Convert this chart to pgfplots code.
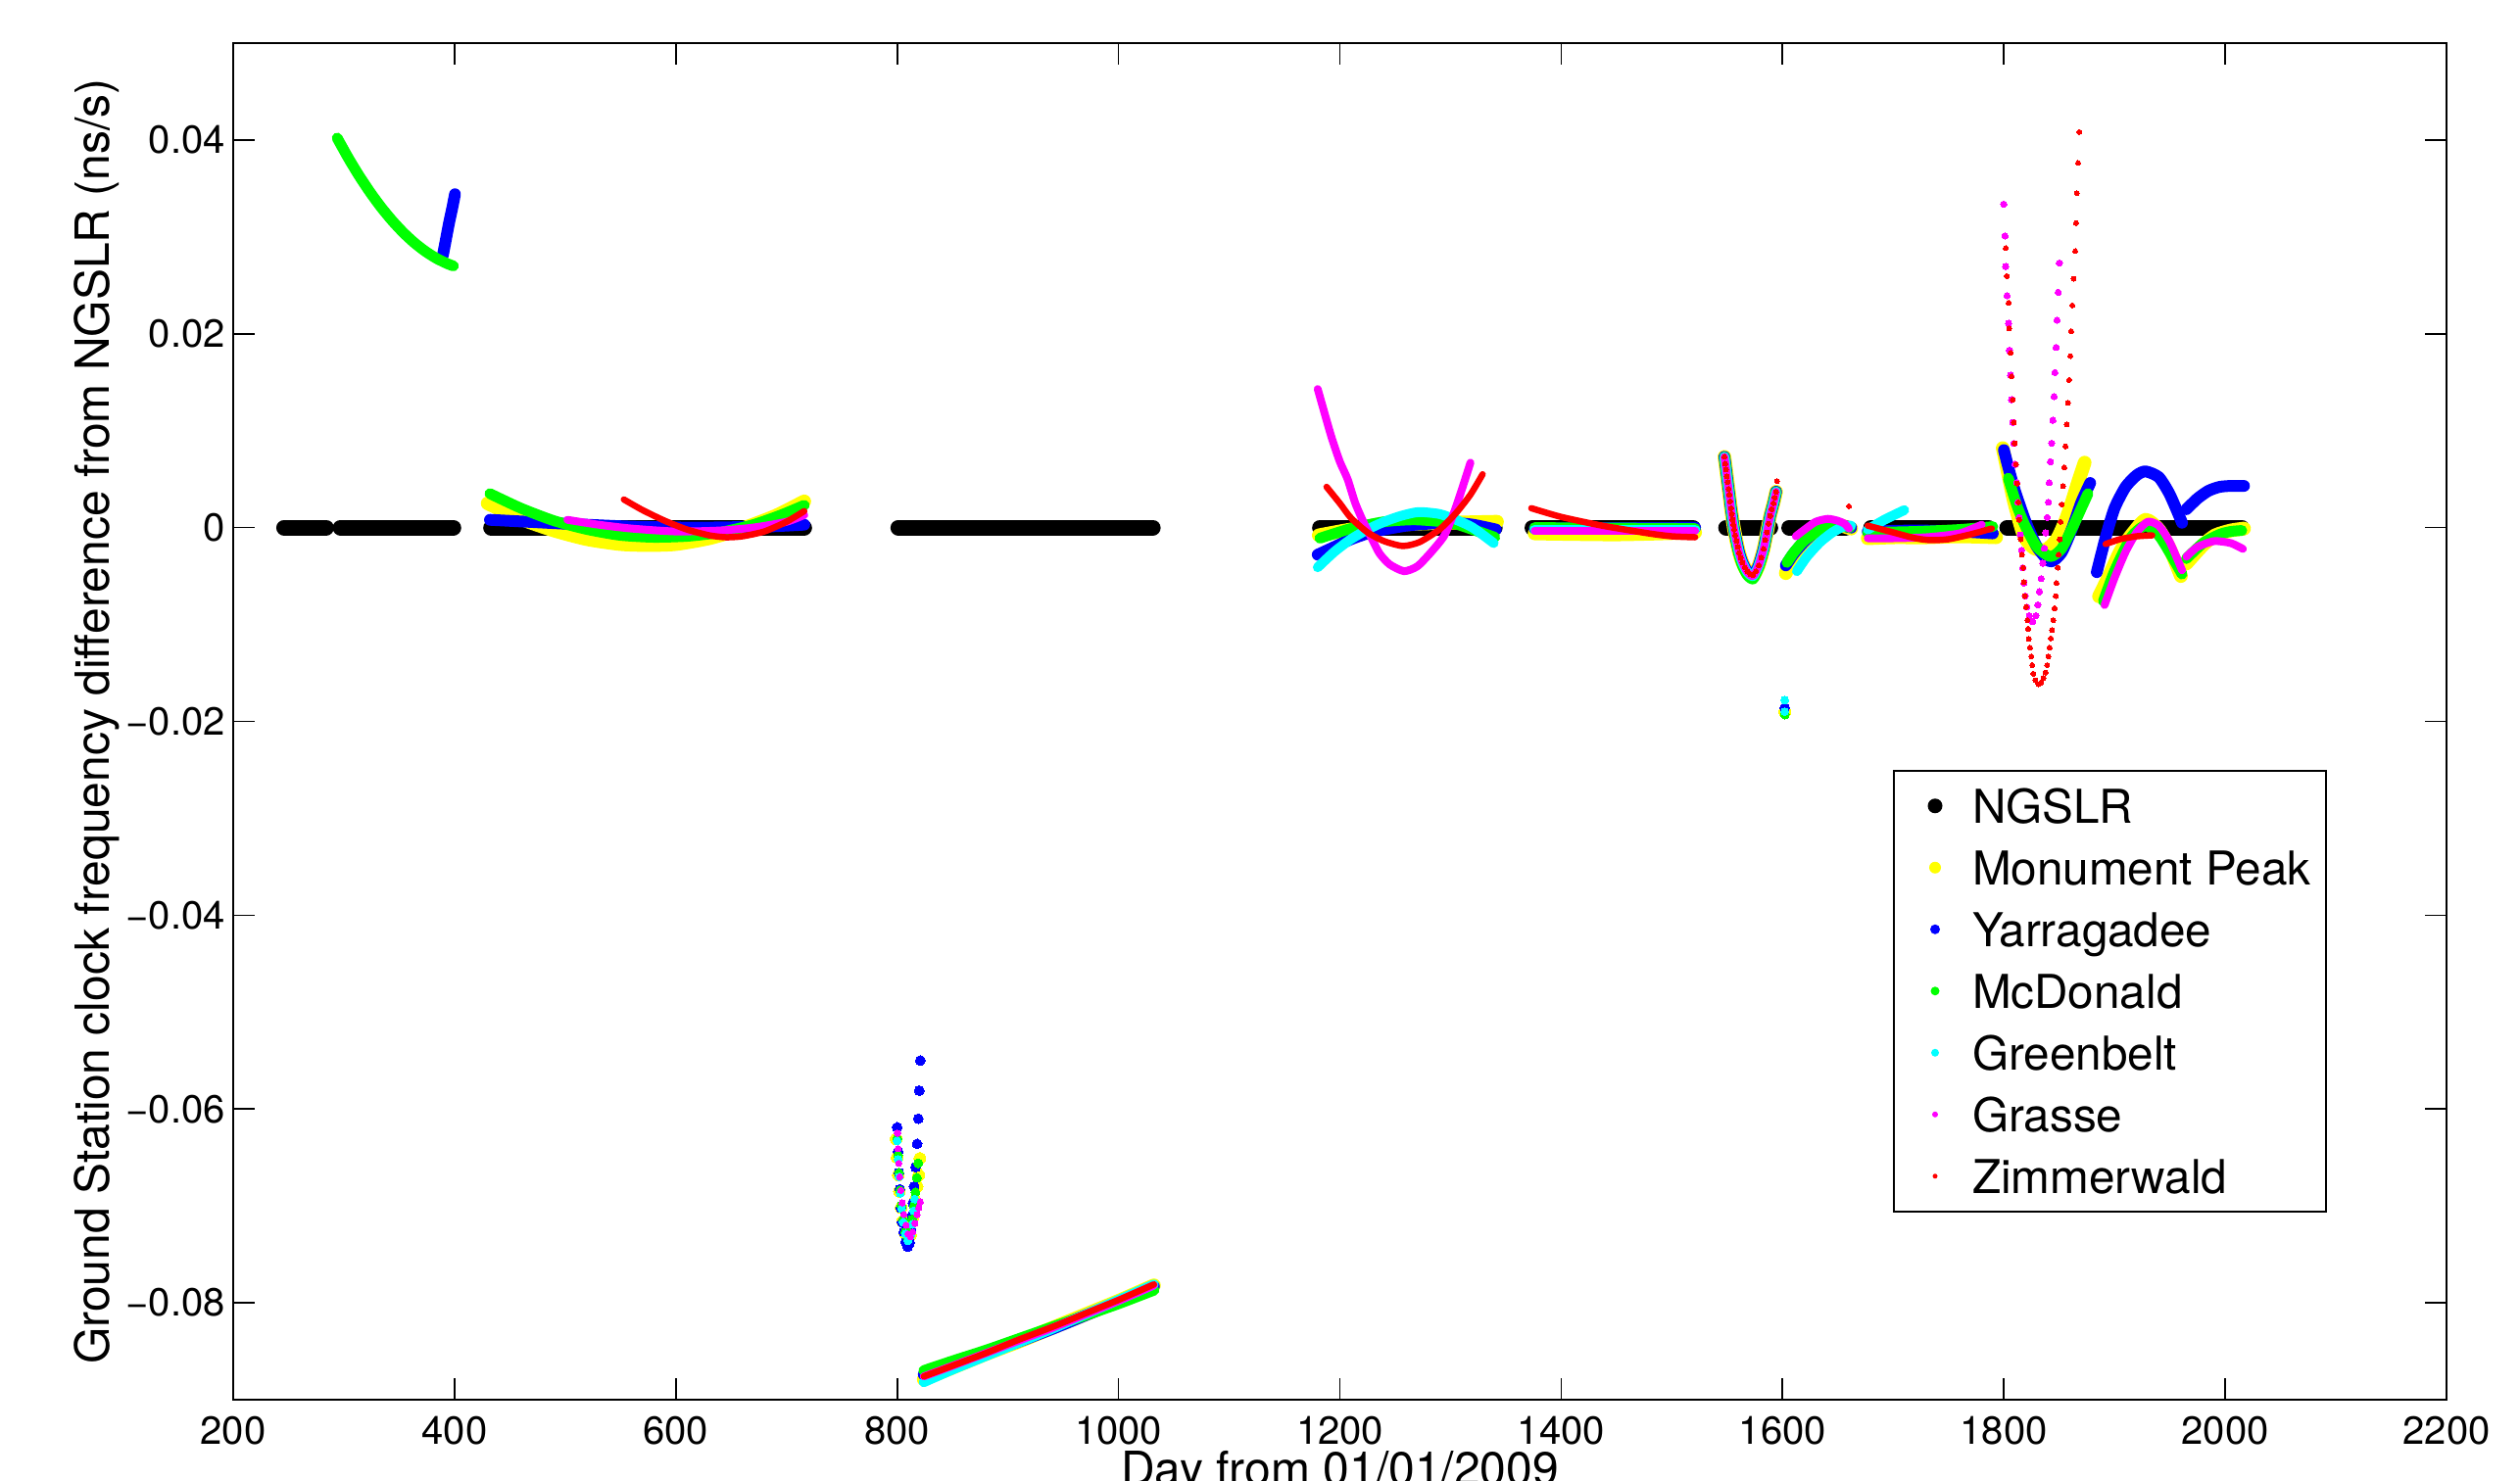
\documentclass[border=0pt]{standalone}
\usepackage{pgfplots}
\pgfplotsset{compat=1.18}
\usepackage{fontspec}
\setmainfont{TeX Gyre Heros}
\definecolor{cY}{rgb}{1,1,0}
\definecolor{cB}{rgb}{0,0,1}
\definecolor{cG}{rgb}{0,1,0}
\definecolor{cC}{rgb}{0,1,1}
\definecolor{cM}{rgb}{1,0,1}
\definecolor{cR}{rgb}{1,0,0}
\pgfplotsset{
  ln/.style={no markers, smooth, tension=0.4, line cap=round, line join=round, forget plot},
  NG/.style={ln, draw=black, line width=4.8pt},
  MP/.style={ln, draw=cY, line width=4.2pt},
  YA/.style={ln, draw=cB, line width=3.6pt},
  MD/.style={ln, draw=cG, line width=3.3pt},
  GB/.style={ln, draw=cC, line width=3.0pt},
  GR/.style={ln, draw=cM, line width=2.4pt},
  ZI/.style={ln, draw=cR, line width=1.95pt},
  dots/.style={only marks, mark=*, forget plot},
  MPd/.style={dots, color=cY, mark size=1.8pt, mark options={line width=0pt}},
  YAd/.style={dots, color=cB, mark size=1.5pt, mark options={line width=0pt}},
  MDd/.style={dots, color=cG, mark size=1.35pt, mark options={line width=0pt}},
  GBd/.style={dots, color=cC, mark size=1.2pt, mark options={line width=0pt}},
  GRd/.style={dots, color=cM, mark size=0.95pt, mark options={line width=0pt}},
  ZId/.style={dots, color=cR, mark size=0.75pt, mark options={line width=0pt}},
  leg/.style 2 args={forget plot=false, legend image code/.code={\path[draw=none, fill=none] (0pt,-1pt) rectangle (16pt,1pt); \path[draw=none, fill=#1] (8pt,0pt) circle[radius=#2];}},
}
\begin{document}
\begin{tikzpicture}
\begin{axis}[
  scale only axis, width=677.7pt, height=415.5pt,
  xmin=200, xmax=2200, ymin=-0.09, ymax=0.05,
  xtick={200,400,600,800,1000,1200,1400,1600,1800,2000,2200},
  xticklabels={200,400,600,800,1000,1200,1400,1600,1800,2000,2200},
  ytick={-0.08,-0.06,-0.04,-0.02,0,0.02,0.04},
  yticklabels={−0.08,−0.06,−0.04,−0.02,0,0.02,0.04},
  scaled y ticks=false, scaled x ticks=false,
  tick align=inside, major tick length=6.6pt,
  every tick/.style={black, line width=0.5pt},
  axis line style={line width=0.6pt},
  tick label style={font=\fontsize{12}{14}\selectfont},
  xticklabel style={anchor=north, inner sep=0pt, yshift=-4.8pt},
  yticklabel style={anchor=east, inner sep=0pt, xshift=-2.3pt},
  xlabel={Day from 01/01/2009},
  ylabel={Ground Station clock frequency difference from NGSLR (ns/s)},
  label style={font=\fontsize{14.4}{17}\selectfont},
  xlabel style={at={(axis description cs:0.5,-0.0376)}, anchor=north, inner sep=0pt},
  ylabel style={at={(axis description cs:-0.0558,0.5)}, anchor=base, inner sep=0pt, rotate=0},
  legend cell align=left,
  legend style={at={(0.7499,0.4643)}, anchor=north west, draw=black, line width=0.6pt,
    inner xsep=4.6pt, inner ysep=3pt, row sep=3.4pt, column sep=3.4pt,
    font=\fontsize{14.3}{16}\selectfont,
    nodes={inner sep=0pt, text height=13pt, text depth=2.5pt}},
]
\coordinate (SW) at (rel axis cs:0,0);
\coordinate (NE) at (rel axis cs:1,1);
% ---------------- NGSLR
\addplot[NG, leg={black}{2.25pt}] coordinates {(246,0) (284,0)};
\addlegendentry{NGSLR}
\addplot[NG] coordinates {(297,0) (399,0)};
\addplot[NG] coordinates {(433,0) (716,0)};
\addplot[NG] coordinates {(801,0) (1031,0)};
\addplot[NG] coordinates {(1182,0) (1340,0)};
\addplot[NG] coordinates {(1374,0) (1519,0)};
\addplot[NG] coordinates {(1549,0) (1589,0)};
\addplot[NG] coordinates {(1606,0) (1657,0)};
\addplot[NG] coordinates {(1680,0) (1786,0)};
\addplot[NG] coordinates {(1803,0) (2015,0)};
% ---------------- Monument Peak
\addplot[MP, leg={cY}{1.8pt}] coordinates {(430,0.0025) (460,0.0009) (490,-0.0003) (520,-0.0012) (550,-0.0017) (575,-0.0018) (600,-0.0017) (630,-0.0011) (660,-0.0001) (690,0.0012) (716,0.0027)};
\addlegendentry{Monument Peak}
\addplot[MPd] coordinates {(799,-0.0631) (800,-0.0650) (801,-0.0668) (802,-0.0685) (803.5,-0.0702) (805,-0.0716) (807,-0.0728) (809.5,-0.0735) (812,-0.0730) (814,-0.0712) (816,-0.0695) (818,-0.0680) (819.5,-0.0668) (820.5,-0.0651)};
\addplot[MP] coordinates {(824,-0.0879) (850,-0.0867) (880,-0.0853) (910,-0.0840) (940,-0.0826) (970,-0.0812) (1000,-0.0798) (1032,-0.0782)};
\addplot[MP] coordinates {(1181,-0.0008) (1210,-0.0002) (1240,0.0002) (1270,0.0004) (1300,0.0005) (1342,0.0006)};
\addplot[MP] coordinates {(1376,-0.0006) (1450,-0.0007) (1521,-0.0005)};
\addplot[MP] coordinates {(1547.5,0.0073) (1549.0,0.0060) (1550.4,0.0047) (1551.9,0.0034) (1553.4,0.0020) (1554.9,0.0008) (1556.3,-0.0002) (1558.4,-0.0014) (1560.8,-0.0026) (1563.7,-0.0036) (1568.2,-0.0046) (1573.4,-0.0050) (1578.5,-0.0039) (1582.9,-0.0022) (1585.9,-0.0005) (1588.8,0.0012) (1591.8,0.0025) (1594.2,0.0037)};
\addplot[MP] coordinates {(1603,-0.0047) (1610,-0.0030) (1620,-0.0015) (1630,-0.0004) (1640,0.0003) (1650,0.0003) (1662,-0.0001)};
\addplot[MPd] coordinates {(1602,-0.0190)};
\addplot[MP] coordinates {(1677,-0.0011) (1700,-0.0010) (1730,-0.0010) (1760,-0.0009) (1793,-0.0010)};
\addplot[MP] coordinates {(1799,0.0082) (1804,0.0055) (1809,0.0028) (1818,-0.0008) (1827,-0.0021) (1838,-0.0023) (1848,-0.0012) (1856,0.0008) (1862,0.0028) (1868,0.0050) (1873,0.0067)};
\addplot[MP] coordinates {(1886,-0.0071) (1895,-0.0050) (1905,-0.0025) (1915,-0.0008) (1928,0.0008) (1940,-0.0002) (1950,-0.0022) (1960,-0.0050)};
\addplot[MP] coordinates {(1965,-0.0037) (1980,-0.0018) (1991,-0.0008) (2005,-0.0003) (2017,-0.0001)};
% ---------------- Yarragadee
\addplot[YA, leg={cB}{1.5pt}] coordinates {(389.5,0.0281) (392,0.0296) (395,0.0314) (398,0.0330) (400.4,0.0344)};
\addlegendentry{Yarragadee}
\addplot[YA] coordinates {(432,0.0008) (500,0.0004) (560,0.0001) (620,0.0000) (680,0.0001) (716,0.0003)};
\addplot[YAd] coordinates {(800.0,-0.0619) (800.8,-0.0644) (801.6,-0.0666) (802.4,-0.0683) (803.4,-0.0702) (804.6,-0.0717) (806.0,-0.0727) (807.6,-0.0737) (809.5,-0.0742) (811.3,-0.0738) (812.6,-0.0725) (813.6,-0.0710) (814.2,-0.0697) (815.3,-0.0680) (816.6,-0.0660) (818.0,-0.0636) (819.1,-0.0610) (820.0,-0.0581) (820.9,-0.0550)};
\addplot[YA] coordinates {(824,-0.0874) (850,-0.0864) (880,-0.0852) (910,-0.0840) (940,-0.0827) (970,-0.0813) (1000,-0.0799) (1032,-0.0783)};
\addplot[YA] coordinates {(1180,-0.0028) (1195,-0.0020) (1210,-0.0012) (1225,-0.0006) (1240,-0.0002) (1260,0.0002) (1280,0.0004) (1300,0.0005) (1320,0.0003) (1341,-0.0002)};
\addplot[YA] coordinates {(1376,-0.0001) (1521,0.0000)};
\addplot[YA] coordinates {(1547.5,0.0073) (1549.0,0.0060) (1550.4,0.0047) (1551.9,0.0034) (1553.4,0.0020) (1554.9,0.0008) (1556.3,-0.0002) (1558.4,-0.0014) (1560.8,-0.0026) (1563.7,-0.0036) (1568.2,-0.0046) (1573.4,-0.0050) (1578.5,-0.0039) (1582.9,-0.0022) (1585.9,-0.0005) (1588.8,0.0012) (1591.8,0.0025) (1594.2,0.0037)};
\addplot[YA] coordinates {(1603,-0.0039) (1610,-0.0027) (1620,-0.0014) (1630,-0.0004) (1640,0.0003) (1650,0.0003) (1662,0.0000)};
\addplot[YAd] coordinates {(1602,-0.0186)};
\addplot[YA] coordinates {(1677,-0.0004) (1720,-0.0003) (1760,-0.0004) (1790,-0.0006)};
\addplot[YA] coordinates {(1800,0.0080) (1805,0.0058) (1810,0.0038) (1820,0.0005) (1830,-0.0020) (1842,-0.0035) (1852,-0.0026) (1862,0.0000) (1870,0.0026) (1878,0.0046)};
\addplot[YA] coordinates {(1884,-0.0046) (1892,-0.0010) (1900,0.0020) (1910,0.0042) (1920,0.0054) (1928,0.0058) (1940,0.0052) (1950,0.0034) (1961,0.0005)};
\addplot[YA] coordinates {(1965,0.0019) (1975,0.0030) (1985,0.0038) (1995,0.0042) (2005,0.0043) (2017,0.0043)};
% ---------------- McDonald
\addplot[MD, leg={cG}{1.35pt}] coordinates {(294,0.0402) (304,0.03815) (314,0.03627) (324,0.03456) (334,0.03301) (344,0.03163) (354,0.03041) (364,0.02936) (374,0.02848) (384,0.02776) (394,0.02721) (399,0.0270)};
\addlegendentry{McDonald}
\addplot[MD] coordinates {(432,0.0035) (460,0.0020) (490,0.0007) (520,-0.0002) (550,-0.0008) (580,-0.0010) (610,-0.0009) (640,-0.0005) (670,0.0003) (695,0.0013) (716,0.0023)};
\addplot[MDd] coordinates {(800,-0.0631) (800.8,-0.0648) (801.6,-0.0666) (802.6,-0.0684) (803.8,-0.0700) (805.3,-0.0715) (807.2,-0.0727) (809.5,-0.0734) (811.8,-0.0728) (813.5,-0.0714) (815,-0.0700) (816.5,-0.0686) (817.8,-0.0671) (819,-0.0656)};
\addplot[MD] coordinates {(824,-0.0870) (850,-0.0860) (880,-0.0849) (910,-0.0837) (940,-0.0825) (970,-0.0813) (1000,-0.0801) (1032,-0.0787)};
\addplot[MD] coordinates {(1182,-0.0011) (1210,-0.0001) (1240,0.0006) (1268,0.0008) (1300,0.0005) (1320,-0.0002) (1340,-0.0010)};
\addplot[MD] coordinates {(1376,0.0000) (1521,-0.0001)};
\addplot[MD] coordinates {(1547.5,0.0073) (1549.0,0.0060) (1550.4,0.0047) (1551.9,0.0034) (1553.4,0.0020) (1554.9,0.0008) (1556.3,-0.0002) (1558.4,-0.0015) (1560.8,-0.0028) (1563.7,-0.0039) (1568.2,-0.0049) (1573.4,-0.0053) (1578.5,-0.0041) (1582.9,-0.0023) (1585.9,-0.0005) (1588.8,0.0012) (1591.8,0.0025) (1594.2,0.0037)};
\addplot[MD] coordinates {(1604,-0.0036) (1610,-0.0026) (1619,-0.0014) (1630,-0.0005) (1641,0.0004) (1650,0.0003) (1661,0.0000)};
\addplot[MDd] coordinates {(1602,-0.0193)};
\addplot[MD] coordinates {(1677,-0.0005) (1720,-0.0004) (1760,-0.0002) (1790,0.0001)};
\addplot[MD] coordinates {(1804,0.0051) (1812,0.0022) (1820,0.0000) (1830,-0.0020) (1842,-0.0030) (1852,-0.0022) (1862,0.0000) (1870,0.0020) (1876,0.0035)};
\addplot[MD] coordinates {(1890,-0.0076) (1900,-0.0045) (1915,-0.0010) (1928,0.0002) (1940,-0.0008) (1950,-0.0026) (1961,-0.0048)};
\addplot[MD] coordinates {(1965,-0.0032) (1980,-0.0016) (1995,-0.0007) (2005,-0.0004) (2015,-0.0003)};
% ---------------- Greenbelt
\addplot[GBd, leg={cC}{1.2pt}] coordinates {(800,-0.0633) (800.9,-0.0652) (801.8,-0.0670) (802.8,-0.0687) (804,-0.0703) (805.5,-0.0717) (807.4,-0.0729) (809.8,-0.0736) (812,-0.0731) (813.6,-0.0719) (814.8,-0.0705) (815.8,-0.0693)};
\addlegendentry{Greenbelt}
\addplot[GB] coordinates {(824,-0.0882) (850,-0.0869) (880,-0.0855) (910,-0.0841) (940,-0.0827) (970,-0.0812) (1000,-0.0797) (1032,-0.0781)};
\addplot[GB] coordinates {(1180,-0.0041) (1195,-0.0025) (1210,-0.0012) (1225,-0.0002) (1240,0.0006) (1255,0.0012) (1271,0.0016) (1290,0.0014) (1305,0.0008) (1320,0.0000) (1339,-0.0016)};
\addplot[GB] coordinates {(1376,-0.0002) (1521,-0.0002)};
\addplot[GB] coordinates {(1547.5,0.0073) (1549.0,0.0060) (1550.4,0.0047) (1551.9,0.0034) (1553.4,0.0020) (1554.9,0.0008) (1556.3,-0.0002) (1558.4,-0.0014) (1560.8,-0.0026) (1563.7,-0.0036) (1568.2,-0.0046) (1573.4,-0.0050) (1578.5,-0.0039) (1582.9,-0.0022) (1585.9,-0.0005) (1588.8,0.0012) (1591.8,0.0025) (1594.2,0.0037)};
\addplot[GB] coordinates {(1613,-0.0045) (1622,-0.0030) (1634,-0.0015) (1645,-0.0005) (1655,0.0001) (1662,0.0002)};
\addplot[GBd] coordinates {(1602,-0.0178) (1602,-0.0190)};
\addplot[GB] coordinates {(1677,-0.0002) (1692,0.0008) (1710,0.0018)};
% ---------------- Grasse
\addplot[GR, leg={cM}{0.9pt}] coordinates {(502,0.0008) (530,0.0003) (560,-0.0001) (600,-0.0004) (640,-0.0003) (670,0.0000) (700,0.0006) (716,0.0013)};
\addlegendentry{Grasse}
\addplot[GRd] coordinates {(800.2,-0.0625) (800.8,-0.0641) (801.5,-0.0656) (802.3,-0.0670) (803.3,-0.0684) (804.5,-0.0697) (806,-0.0709) (808,-0.0720) (810,-0.0729) (812,-0.0732) (814,-0.0727) (816,-0.0718) (818,-0.0709) (819.5,-0.0702) (820.9,-0.0696)};
\addplot[GR] coordinates {(824,-0.0876) (850,-0.0865) (880,-0.0852) (910,-0.0839) (940,-0.0826) (970,-0.0812) (1000,-0.0798) (1032,-0.0782)};
\addplot[GR] coordinates {(1180,0.0143) (1192,0.0095) (1200,0.0068) (1207,0.0050) (1214,0.0025) (1222,0.0004) (1230,-0.0014) (1236,-0.0027) (1245,-0.0038) (1258,-0.0045) (1270,-0.0040) (1282,-0.0026) (1294,-0.0009) (1302,0.0012) (1309,0.0035) (1318,0.0067)};
\addplot[GR] coordinates {(1376,-0.0003) (1450,-0.0003) (1521,-0.0003)};
\addplot[GR] coordinates {(1547.5,0.0073) (1549.0,0.0060) (1550.4,0.0047) (1551.9,0.0034) (1553.4,0.0020) (1554.9,0.0008) (1556.3,-0.0002) (1558.4,-0.0014) (1560.8,-0.0026) (1563.7,-0.0036) (1568.2,-0.0046) (1573.4,-0.0050) (1578.5,-0.0039) (1582.9,-0.0022) (1585.9,-0.0005) (1588.8,0.0012) (1591.8,0.0025) (1594.2,0.0037)};
\addplot[GR] coordinates {(1612,-0.0009) (1620,-0.0002) (1630,0.0006) (1641,0.0009) (1650,0.0007) (1656,0.0004) (1660,-0.0001)};
\addplot[GR] coordinates {(1677,-0.0011) (1700,-0.0011) (1730,-0.0010) (1760,-0.0006) (1780,0.0003)};
\addplot[GRd] coordinates {(1799.9,0.03338) (1801.0,0.03009) (1801.7,0.02694) (1802.8,0.02392) (1804.3,0.02108) (1805.0,0.01829) (1806.1,0.01572) (1806.9,0.0132) (1808.0,0.01086) (1809.1,0.0087) (1810.2,0.00653) (1811.6,0.00464) (1812.7,0.00261) (1813.8,0.00104) (1814.9,-0.00077) (1816.0,-0.00234) (1817.1,-0.00414) (1818.2,-0.00572) (1819.3,-0.00707) (1820.8,-0.0082) (1823.0,-0.0091) (1825.9,-0.00969) (1828.9,-0.0091) (1830.7,-0.00797) (1832.2,-0.00662) (1833.7,-0.00527) (1835.1,-0.00369) (1836.6,-0.00212) (1837.7,-0.00054) (1839.2,0.00104) (1840.3,0.00261) (1841.0,0.00464) (1842.1,0.0068) (1843.2,0.0087) (1844.3,0.01108) (1845.4,0.01352) (1846.1,0.016) (1847.2,0.0186) (1848.0,0.0214) (1849.1,0.02428) (1850.2,0.0273)};
\addplot[GR] coordinates {(1891,-0.0080) (1900,-0.0052) (1910,-0.0025) (1920,-0.0005) (1930,0.0006) (1940,0.0002) (1950,-0.0015) (1961,-0.0044)};
\addplot[GR] coordinates {(1965,-0.0030) (1975,-0.0020) (1990,-0.0014) (2005,-0.0016) (2016,-0.0022)};
% ---------------- Zimmerwald
\addplot[ZI, leg={cR}{0.75pt}] coordinates {(553,0.0029) (570,0.0018) (590,0.0007) (610,-0.0002) (630,-0.0008) (645,-0.0010) (660,-0.0009) (680,-0.0004) (700,0.0006) (716,0.0017)};
\addlegendentry{Zimmerwald}
\addplot[ZI] coordinates {(824,-0.0876) (850,-0.0865) (880,-0.0852) (910,-0.0838) (940,-0.0825) (970,-0.0811) (1000,-0.0797) (1032,-0.0781)};
\addplot[ZI] coordinates {(1188,0.0042) (1200,0.0025) (1210,0.0010) (1225,-0.0005) (1240,-0.0014) (1257,-0.0019) (1272,-0.0015) (1290,-0.0002) (1305,0.0015) (1318,0.0034) (1329,0.0055)};
\addplot[ZI] coordinates {(1373,0.0020) (1400,0.0011) (1437,0.0002) (1479,-0.0006) (1500,-0.0009) (1521,-0.0010)};
\addplot[ZId] coordinates {(1547.5,0.0073) (1548.2,0.0066) (1549.0,0.0060) (1549.7,0.0053) (1550.4,0.0047) (1551.2,0.0040) (1551.9,0.0034) (1552.7,0.0027) (1553.4,0.0020) (1554.2,0.0014) (1554.9,0.0008) (1555.6,0.0003) (1556.3,-0.0002) (1557.3,-0.0008) (1558.4,-0.0014) (1559.6,-0.0020) (1560.8,-0.0026) (1562.2,-0.0031) (1563.7,-0.0036) (1565.9,-0.0041) (1568.2,-0.0045) (1570.8,-0.0048) (1573.4,-0.0049) (1576.0,-0.0045) (1578.5,-0.0039) (1580.7,-0.0031) (1582.9,-0.0022) (1584.4,-0.0013) (1585.9,-0.0005) (1587.3,0.0004) (1588.8,0.0012) (1590.3,0.0019) (1591.8,0.0025) (1593.0,0.0031) (1594.2,0.0037)};
\addplot[ZId] coordinates {(1595,0.0048) (1660,0.0022)};
\addplot[ZI] coordinates {(1677,0.0002) (1700,-0.0005) (1720,-0.0011) (1734,-0.0013) (1750,-0.0012) (1770,-0.0007) (1789,-0.0001)};
\addplot[ZId] coordinates {(1801.7,0.02883) (1802.8,0.02595) (1804.3,0.0232) (1804.7,0.02054) (1806.1,0.01802) (1806.9,0.01559) (1808.0,0.0132) (1809.1,0.01086) (1809.8,0.00869) (1810.9,0.00653) (1812.0,0.00455) (1813.1,0.00261) (1813.8,0.00081) (1815.3,-0.00122) (1816.4,-0.00279) (1817.5,-0.00414) (1818.2,-0.00563) (1819.0,-0.00707) (1820.1,-0.0082) (1821.2,-0.00955) (1821.9,-0.01045) (1822.6,-0.01149) (1823.7,-0.01239) (1824.8,-0.01329) (1825.6,-0.01419) (1826.7,-0.01509) (1828.5,-0.01577) (1831.1,-0.01617) (1833.7,-0.01599) (1835.9,-0.01554) (1837.7,-0.01496) (1839.2,-0.01419) (1840.3,-0.01329) (1841.4,-0.01239) (1842.5,-0.01144) (1843.6,-0.01059) (1844.7,-0.00955) (1845.8,-0.00833) (1846.9,-0.00707) (1847.6,-0.00572) (1848.7,-0.00414) (1849.4,-0.00279) (1850.5,-0.00122) (1851.3,0.00059) (1852.4,0.00239) (1853.5,0.00428) (1854.6,0.00622) (1855.7,0.00838) (1856.8,0.01063) (1857.9,0.01288) (1859.0,0.01523) (1860.1,0.0177) (1860.8,0.02027) (1861.9,0.02293) (1863.0,0.02568) (1864.5,0.02852) (1865.2,0.03144) (1866.0,0.03451) (1867.1,0.03762) (1868.2,0.04082)};
\addplot[ZI] coordinates {(1892,-0.0017) (1905,-0.0012) (1920,-0.0009) (1934,-0.0008)};
\end{axis}
\pgfresetboundingbox
\path[use as bounding box] ([xshift=-71.4pt,yshift=-24.9pt]SW) rectangle ([xshift=22.5pt,yshift=13.2pt]NE);
\end{tikzpicture}
\end{document}
